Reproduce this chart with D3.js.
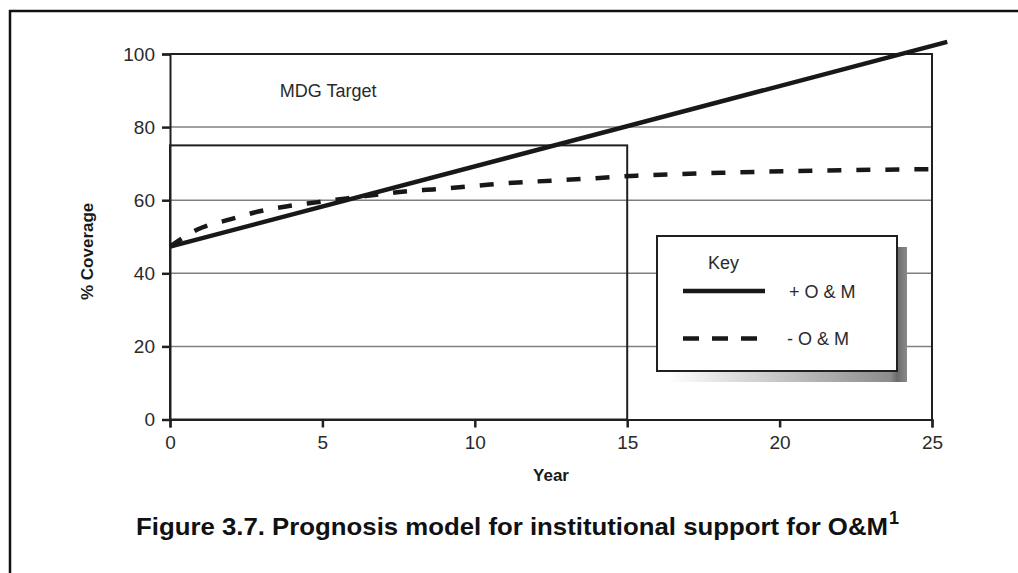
<!DOCTYPE html>
<html>
<head>
<meta charset="utf-8">
<script src="https://cdn.jsdelivr.net/npm/d3@7"></script>
<style>
	body { margin: 0; background: #fff; }
	svg { display: block; font-family: 'Liberation Sans', Arial, sans-serif; }
	.tick-label { font-size: 19px; fill: #2a2a2a; }
</style>
</head>
<body>
<svg width="1018" height="573"></svg>
<script>
const xTicks = [0, 5, 10, 15, 20, 25]
const yTicks = [0, 20, 40, 60, 80, 100]

// + O & M (straight line)
const withOMYears = [0, 25.5]
const withOMCoverage = [47.3, 103.3]

// - O & M (flattening curve)
const withoutOMYears = [0, 0.9, 2, 2.9, 3.9, 4.8, 5.8, 6.7, 7.7, 8.7, 9.7, 10.5, 13.5, 15.3, 18.1, 21.2, 25.3]
const withoutOMCoverage = [47.3, 52.0, 54.8, 56.9, 58.4, 59.4, 60.5, 61.4, 62.4, 63.0, 63.7, 64.3, 65.8, 66.7, 67.5, 68.1, 68.5]

const mdgYear = 15
const mdgCoverage = 75

const legendLabels = ['+ O & M', '- O & M']

const svg = d3.select('svg')

const x = d3.scaleLinear().domain([0, 25]).range([170, 932])
const y = d3.scaleLinear().domain([0, 100]).range([419.5, 54])

/*

FRAME

*/
svg.append('path')
	.attr('d', 'M10,573 L10,11 L1018,11')
	.attr('fill', 'none')
	.attr('stroke', '#111')
	.attr('stroke-width', 2.5)

/*

GRID AND TARGET BOX

*/
svg.append('g')
	.selectAll('line')
	.data(yTicks.filter(d => d > 0 && d < 100))
	.enter()
	.append('line')
	.attr('x1', x(0))
	.attr('x2', x(25))
	.attr('y1', d => y(d))
	.attr('y2', d => y(d))
	.attr('stroke', '#808080')
	.attr('stroke-width', 1.5)

svg.append('rect')
	.attr('x', x(0))
	.attr('y', y(mdgCoverage))
	.attr('width', x(mdgYear) - x(0))
	.attr('height', y(0) - y(mdgCoverage))
	.attr('fill', 'none')
	.attr('stroke', '#231f20')
	.attr('stroke-width', 2)

svg.append('text')
	.attr('x', x(3.6))
	.attr('y', y(88.3))
	.style('font-size', '18px')
	.attr('fill', '#2a2a2a')
	.text('MDG Target')

/*

PLOT BORDER AND AXES

*/
svg.append('path')
	.attr('d', `M${x(0)},${y(100)} L${x(25)},${y(100)} L${x(25)},${y(0)}`)
	.attr('fill', 'none')
	.attr('stroke', '#231f20')
	.attr('stroke-width', 2)

const yAxis = svg.append('g')
	.attr('transform', `translate(${x(0)},0)`)
	.call(d3.axisLeft(y).tickValues(yTicks).tickSize(8).tickPadding(7))
yAxis.select('.domain').attr('stroke', '#231f20').attr('stroke-width', 2)
yAxis.selectAll('.tick line').attr('stroke', '#231f20').attr('stroke-width', 2.5)
yAxis.selectAll('.tick text').attr('class', 'tick-label').attr('font-family', null).attr('font-size', null)

const xAxis = svg.append('g')
	.attr('transform', `translate(0,${y(0)})`)
	.call(d3.axisBottom(x).tickValues(xTicks).tickSize(8).tickPadding(8))
xAxis.select('.domain').attr('stroke', '#231f20').attr('stroke-width', 2)
xAxis.selectAll('.tick line').attr('stroke', '#231f20').attr('stroke-width', 2.5)
xAxis.selectAll('.tick text').attr('class', 'tick-label').attr('font-family', null).attr('font-size', null)

svg.append('text')
	.attr('x', (x(0) + x(25)) / 2)
	.attr('y', 481)
	.attr('text-anchor', 'middle')
	.style('font-size', '17px')
	.style('font-weight', 'bold')
	.attr('fill', '#1a1a1a')
	.text('Year')

svg.append('text')
	.attr('transform', `translate(93,${y(46)}) rotate(-90)`)
	.attr('text-anchor', 'middle')
	.style('font-size', '17px')
	.style('font-weight', 'bold')
	.attr('fill', '#1a1a1a')
	.text('% Coverage')

/*

SERIES

*/
const line = d3.line()
	.x(d => x(d[0]))
	.y(d => y(d[1]))

svg.append('path')
	.datum(d3.zip(withOMYears, withOMCoverage))
	.attr('d', line)
	.attr('fill', 'none')
	.attr('stroke', '#1a1718')
	.attr('stroke-width', 4.5)

svg.append('path')
	.datum(d3.zip(withoutOMYears, withoutOMCoverage))
	.attr('d', line.curve(d3.curveMonotoneX))
	.attr('fill', 'none')
	.attr('stroke', '#1a1718')
	.attr('stroke-width', 4.5)
	.attr('stroke-dasharray', '14,15')

/*

KEY

*/
const defs = svg.append('defs')
const grad = defs.append('linearGradient')
	.attr('id', 'shadow')
	.attr('x1', 0).attr('x2', 1).attr('y1', 0).attr('y2', 0)
grad.append('stop').attr('offset', 0).attr('stop-color', '#ffffff')
grad.append('stop').attr('offset', 0.93).attr('stop-color', '#8c8c8c')
grad.append('stop').attr('offset', 0.96).attr('stop-color', '#6c6c6c')
grad.append('stop').attr('offset', 1).attr('stop-color', '#8a8a8a')

const key = svg.append('g').attr('transform', 'translate(657,236)')

key.append('rect')
	.attr('x', 11)
	.attr('y', 11)
	.attr('width', 239)
	.attr('height', 135)
	.attr('fill', 'url(#shadow)')

key.append('rect')
	.attr('width', 240)
	.attr('height', 135)
	.attr('fill', '#fff')
	.attr('stroke', '#231f20')
	.attr('stroke-width', 2)

key.append('text')
	.attr('x', 51)
	.attr('y', 33)
	.style('font-size', '18px')
	.attr('fill', '#2a2a2a')
	.text('Key')

const keyRows = key.selectAll('.key-row')
	.data(legendLabels)
	.enter()
	.append('g')
	.attr('class', 'key-row')
	.attr('transform', (d, i) => `translate(0,${55 + i * 47.5})`)

keyRows.append('line')
	.attr('x1', 26)
	.attr('x2', 108)
	.attr('stroke', '#1a1718')
	.attr('stroke-width', 4.5)
	.attr('stroke-dasharray', (d, i) => i === 0 ? null : '16,13')

keyRows.append('text')
	.attr('x', (d, i) => i === 0 ? 132 : 130)
	.attr('y', 6.5)
	.style('font-size', '18px')
	.attr('fill', '#2a2a2a')
	.text(d => d)

/*

CAPTION

*/
svg.append('text')
	.attr('x', 136)
	.attr('y', 535)
	.attr('textLength', 752)
	.attr('lengthAdjust', 'spacingAndGlyphs')
	.style('font-size', '24px')
	.style('font-weight', 'bold')
	.attr('fill', '#111')
	.text('Figure 3.7. Prognosis model for institutional support for O&M')

svg.append('text')
	.attr('x', 889)
	.attr('y', 524)
	.style('font-size', '18px')
	.style('font-weight', 'bold')
	.attr('fill', '#111')
	.text('1')
</script>
</body>
</html>
